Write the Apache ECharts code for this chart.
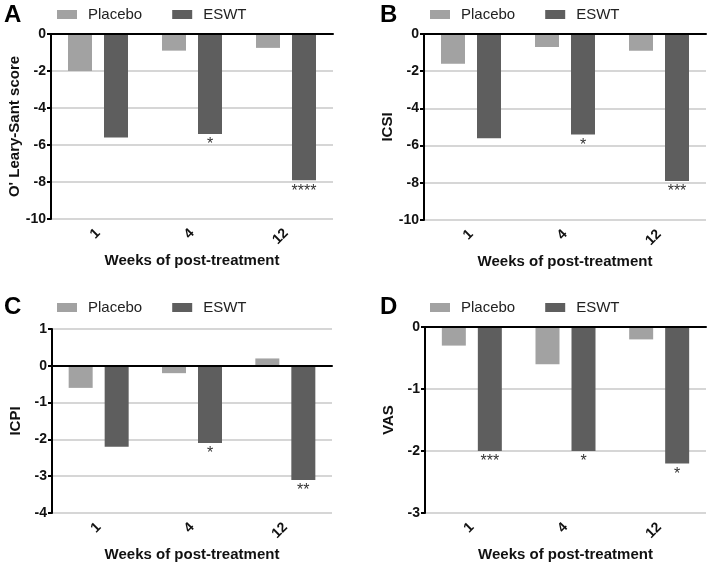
<!DOCTYPE html>
<html><head><meta charset="utf-8">
<script src="https://cdn.jsdelivr.net/npm/echarts@6/dist/echarts.min.js"></script>
<style>html,body{margin:0;padding:0;background:#fff}#c{width:708px;height:565px}</style>
</head><body><div id="c"></div>
<script>
const categories = ['1', '4', '12'];
const seriesNames = ['Placebo', 'ESWT'];
const placeboA = [-2.0, -0.9, -0.75];
const eswtA = [-5.6, -5.4, -7.9];
const sigA = ['', '*', '****'];
const placeboB = [-1.6, -0.7, -0.9];
const eswtB = [-5.6, -5.4, -7.9];
const sigB = ['', '*', '***'];
const placeboC = [-0.6, -0.2, 0.2];
const eswtC = [-2.2, -2.1, -3.1];
const sigC = ['', '*', '**'];
const placeboD = [-0.3, -0.6, -0.2];
const eswtD = [-2.0, -2.0, -2.2];
const sigD = ['***', '*', '*'];
const yTitles = ["O' Leary-Sant score", 'ICSI', 'ICPI', 'VAS'];
const panelLetters = ['A', 'B', 'C', 'D'];
const yRanges = [[-10, 0, 2], [-10, 0, 2], [-4, 1, 1], [-3, 0, 1]];

const FONT = "'Liberation Sans', Arial, sans-serif";
const panels = [
  {p: placeboA, e: eswtA, s: sigA},
  {p: placeboB, e: eswtB, s: sigB},
  {p: placeboC, e: eswtC, s: sigC},
  {p: placeboD, e: eswtD, s: sigD}
];
const grids = [
  {left: 51, top: 34, width: 282, height: 185},
  {left: 424, top: 34, width: 282, height: 186},
  {left: 52, top: 329, width: 280, height: 184},
  {left: 425, top: 327, width: 281, height: 186}
];
const letterPos = [[4, 3], [380, 3], [4, 295], [380, 295]];
const legendPos = [[57, 7], [430, 7], [57, 300], [430, 300]];
const cPlacebo = '#a2a2a2', cEswt = '#5e5e5e';

const option = {
  backgroundColor: '#fff',
  animation: false,
  title: panelLetters.map((t, i) => ({
    text: t, left: letterPos[i][0], top: letterPos[i][1], padding: 0,
    textStyle: {fontFamily: FONT, fontWeight: 'bold', fontSize: 24, color: '#000'}
  })),
  legend: legendPos.map(lp => ({
    left: lp[0], top: lp[1], padding: 0, itemGap: 30, itemWidth: 20, itemHeight: 9,
    icon: 'rect', data: seriesNames,
    textStyle: {fontFamily: FONT, fontSize: 15, color: '#222', padding: [0, 0, 0, 6]}
  })),
  grid: grids,
  xAxis: grids.map((g, i) => ({
    type: 'category', gridIndex: i, data: categories,
    name: 'Weeks of post-treatment', nameLocation: 'middle', nameGap: 34,
    nameTextStyle: {fontFamily: FONT, fontWeight: 'bold', fontSize: 15, color: '#111'},
    axisLine: {lineStyle: {color: '#000', width: 2}},
    axisTick: {alignWithLabel: true, length: 4, lineStyle: {color: '#000', width: 2}},
    axisLabel: {rotate: 45, margin: 12, fontFamily: FONT, fontWeight: 'bold', fontSize: 14, color: '#111'},
    splitLine: {show: false}
  })),
  yAxis: grids.map((g, i) => ({
    type: 'value', gridIndex: i, min: yRanges[i][0], max: yRanges[i][1], interval: yRanges[i][2],
    name: yTitles[i], nameLocation: 'middle', nameGap: 29,
    nameTextStyle: {fontFamily: FONT, fontWeight: 'bold', fontSize: 15, color: '#111'},
    axisLine: {show: true, lineStyle: {color: '#000', width: 2}},
    axisTick: {show: true, length: 4, lineStyle: {color: '#000', width: 2}},
    axisLabel: {margin: 5, fontFamily: FONT, fontWeight: 'bold', fontSize: 14, color: '#111'},
    splitLine: {show: true, lineStyle: {color: '#d6d6d6', width: 2}}
  })),
  series: []
};

panels.forEach((pn, i) => {
  option.series.push({
    name: 'Placebo', type: 'bar', xAxisIndex: i, yAxisIndex: i,
    data: pn.p, barWidth: 24, barGap: '50%',
    itemStyle: {color: cPlacebo}
  });
  option.series.push({
    name: 'ESWT', type: 'bar', xAxisIndex: i, yAxisIndex: i,
    data: pn.e, barWidth: 24, barGap: '50%',
    itemStyle: {color: cEswt},
    label: {
      show: true, position: 'bottom', distance: 3,
      formatter: p => pn.s[p.dataIndex],
      fontFamily: FONT, fontSize: 16, color: '#333'
    },
    markLine: {
      silent: true, symbol: 'none', label: {show: false},
      lineStyle: {color: '#000', width: 2, type: 'solid'},
      data: [{yAxis: 0}]
    }
  });
});

const chart = echarts.init(document.getElementById('c'), null, {renderer: 'canvas'});
chart.setOption(option);
</script>
</body></html>
